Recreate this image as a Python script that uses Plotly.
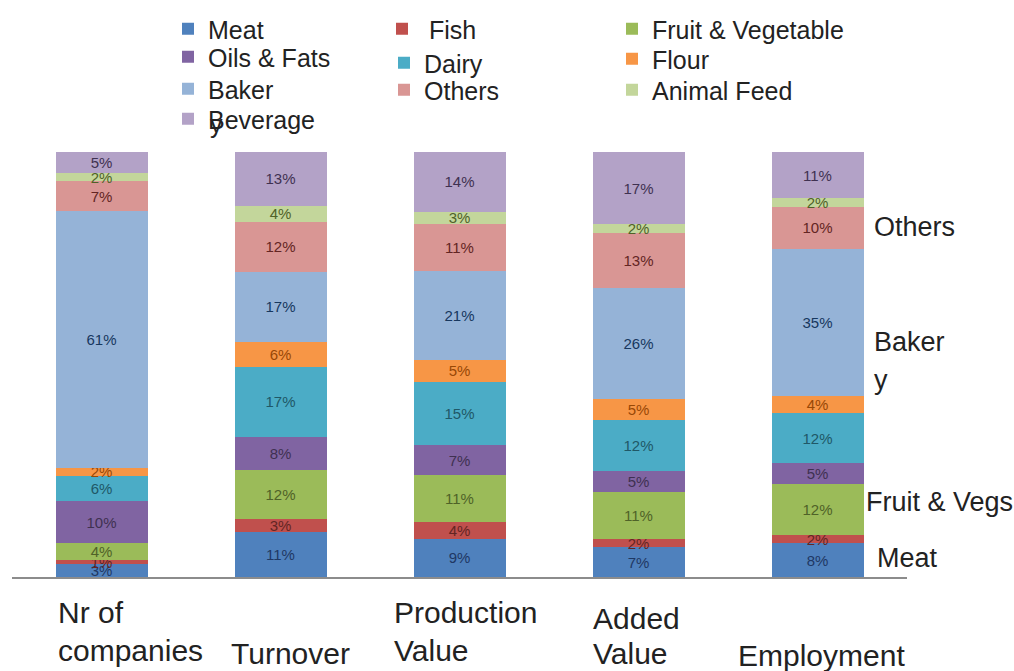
import plotly.graph_objects as go

# Share of each food sub-sector per indicator (%)
categories = ["Nr of companies", "Turnover", "Production Value", "Added Value", "Employment"]

meat        = [3, 11, 9, 7, 8]
fish        = [1, 3, 4, 2, 2]
fruit_veg   = [4, 12, 11, 11, 12]
oils_fats   = [10, 8, 7, 5, 5]
dairy       = [6, 17, 15, 12, 12]
flour       = [2, 6, 5, 5, 4]
bakery      = [61, 17, 21, 26, 35]
others      = [7, 12, 11, 13, 10]
animal_feed = [2, 4, 3, 2, 2]
beverage    = [5, 13, 14, 17, 11]

# name, values, fill, label colour, legend slot (text left px, row centre px)
series = [
    ("Meat", meat, "#4F81BD", "#1F3864", (208, 30)),
    (" Fish", fish, "#C0504D", "#632523", (422, 30)),
    ("Fruit & Vegetable", fruit_veg, "#9BBB59", "#4F6228", (652, 30)),
    ("Oils & Fats", oils_fats, "#8064A2", "#3F3151", (208, 58)),
    ("Dairy", dairy, "#4BACC6", "#205867", (424, 64)),
    ("Flour", flour, "#F79646", "#974806", (652, 60)),
    ("Baker", bakery, "#95B3D7", "#17375E", (208, 90)),
    ("Others", others, "#D99694", "#632523", (424, 91)),
    ("Animal Feed", animal_feed, "#C3D69B", "#4F6228", (652, 91)),
    ("Beverage", beverage, "#B3A2C7", "#3F3151", (208, 120)),
]

W, H = 1014, 671
L, R, T, B = 12, 107, 152, 94
PW, PH = W - L - R, H - T - B


def px_x(px):
    return (px - L) / PW


def px_y(py):
    return (H - B - py) / PH


legend_font = dict(family="Liberation Sans, Arial, sans-serif", size=25, color="#222222")

fig = go.Figure()
legends = {}
for i, (name, vals, color, tcolor, (lx, ly)) in enumerate(series):
    key = "legend" if i == 0 else f"legend{i + 1}"
    legends[key] = dict(
        orientation="v", font=legend_font, bgcolor="rgba(0,0,0,0)",
        xref="container", yref="container",
        x=(lx - 40) / W, y=1 - (ly - 24) / H, xanchor="left", yanchor="top",
        itemclick=False,
    )
    fig.add_trace(go.Bar(
        x=categories, y=vals, name=name, legend=key, showlegend=True,
        marker=dict(color=color, line=dict(width=0)),
        text=[f"{v}%" for v in vals],
        textposition="inside", insidetextanchor="middle",
        textangle=0, constraintext="none",
        textfont=dict(family="Liberation Sans, Arial, sans-serif", size=15, color=tcolor),
        hoverinfo="skip",
    ))

annotations = []
label_font = dict(family="Liberation Sans, Arial, sans-serif", size=30, color="#222222")
# category captions under the axis, one annotation per text line
cat_lines = [
    ("Nr of", 56, 612), ("companies", 56, 650),
    ("Turnover", 229, 653),
    ("Production", 392, 612), ("Value", 392, 650),
    ("Added", 591, 618), ("Value", 591, 653),
    ("Employment", 736, 655),
]
for txt, x, y in cat_lines:
    annotations.append(dict(text=txt, x=px_x(x), y=px_y(y), xref="paper", yref="paper",
                            xanchor="left", yanchor="middle", showarrow=False, font=label_font))

side_font = dict(family="Liberation Sans, Arial, sans-serif", size=27, color="#222222")
side_lines = [
    ("Others", 872, 227), ("Baker", 872, 342), ("y", 872, 380),
    ("Fruit & Vegs", 864, 502), ("Meat", 875, 558),
]
for txt, x, y in side_lines:
    annotations.append(dict(text=txt, x=px_x(x), y=px_y(y), xref="paper", yref="paper",
                            xanchor="left", yanchor="middle", showarrow=False, font=side_font))

# wrapped tail of the legend entry "Baker"
annotations.append(dict(text="y", x=px_x(208), y=px_y(124), xref="paper", yref="paper",
                        xanchor="left", yanchor="middle", showarrow=False, font=legend_font))

fig.update_layout(
    width=W, height=H, showlegend=True,
    margin=dict(l=L, r=R, t=T, b=B, pad=0, autoexpand=False),
    paper_bgcolor="white", plot_bgcolor="white",
    barmode="stack", barnorm="percent", bargap=0.486,
    xaxis=dict(showticklabels=False, ticks="", showgrid=False, zeroline=False,
               showline=True, linecolor="#8c8c8c", linewidth=2),
    yaxis=dict(range=[0, 100], visible=False),
    annotations=annotations,
    uniformtext=dict(minsize=15, mode="show"),
    font=dict(family="Liberation Sans, Arial, sans-serif"),
    **legends,
)

fig.write_html("out.html")
